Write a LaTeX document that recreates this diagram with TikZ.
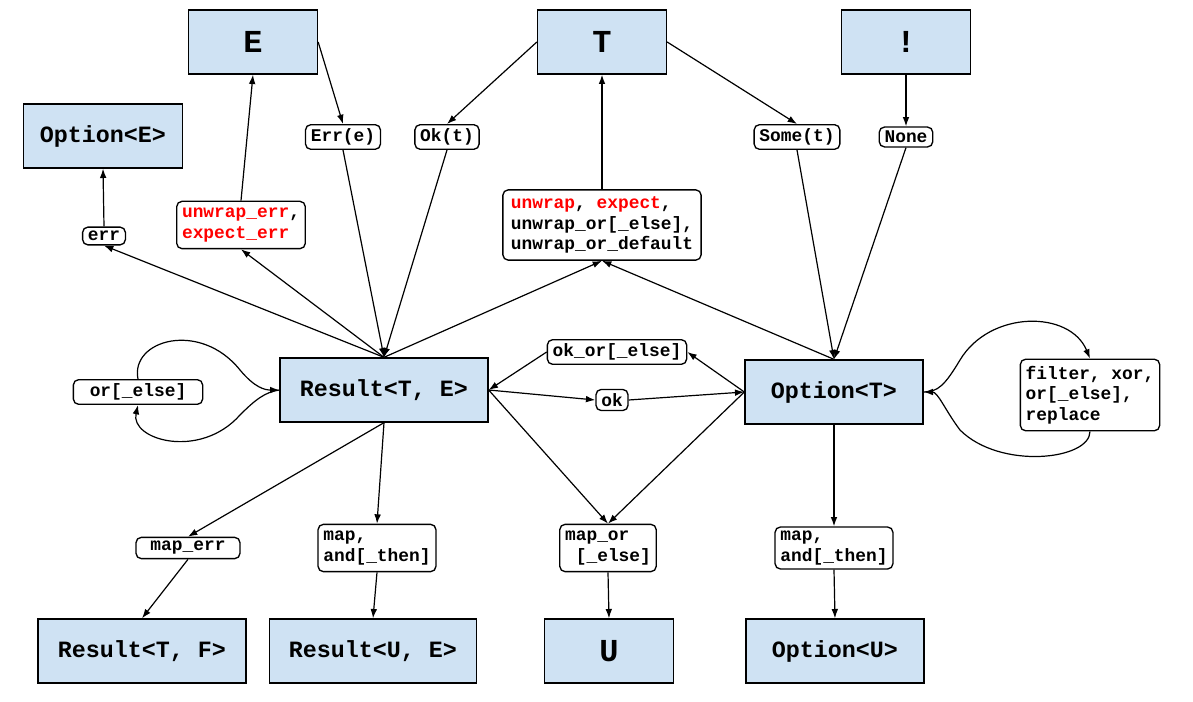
\documentclass[tikz,border=0pt]{standalone}
\usepackage{fontspec}
\setmonofont{Liberation Mono}
\usetikzlibrary{arrows.meta}
\definecolor{bx}{HTML}{CFE2F3}
\begin{document}
\begin{tikzpicture}[x=0.75pt,y=-0.75pt,
 big/.style={draw,line width=1pt,fill=bx,minimum width=#1*0.75pt,minimum height=48pt,font=\ttfamily\bfseries\fontsize{17.5}{20}\selectfont,inner sep=0pt},
 huge/.style={big=129,font=\ttfamily\bfseries\fontsize{24}{26}\selectfont},
 lab/.style={draw,line width=1pt,fill=white,rounded corners=4pt,font=\ttfamily\bfseries\fontsize{13.4}{15.5}\selectfont,inner xsep=4pt,inner ysep=3pt,align=left},
 ar/.style={-{Latex[length=7pt,width=5pt]},line width=0.9pt}]
\useasboundingbox (0,0) rectangle (1193,702);
\node[huge] (E) at (253,42) {E};
\node[huge] (T) at (602,42) {T};
\node[huge] (X) at (906,42) {!};
\node[big=159] (OE) at (103,136) {Option<E>};
\node[big=208] (R) at (384,390) {Result<T, E>};
\node[big=178] (OT) at (834,392) {Option<T>};
\node[big=208] (RF) at (142,651) {Result<T, F>};
\node[big=207] (RU) at (373,651) {Result<U, E>};
\node[huge] (U) at (609,651) {U};
\node[big=178] (OU) at (835,651) {Option<U>};

\node[lab] (erre) at (343,137) {Err(e)};
\node[lab] (okt) at (447,137) {Ok(t)};
\node[lab] (somet) at (797,137) {Some(t)};
\node[lab] (none) at (906,137) {None};
\node[lab] (err) at (104,236) {err};
\node[lab,inner ysep=5pt] (uerr) at (241,225) {\color{red}unwrap\_err\color{black},\\\color{red}expect\_err};
\node[lab,inner ysep=5pt,inner xsep=6pt] (unw) at (602,225) {\color{red}unwrap\color{black}, \color{red}expect\color{black},\\unwrap\_or[\_else],\\unwrap\_or\_default};
\node[lab] (okor) at (617,352) {ok\_or[\_else]};
\node[lab,minimum width=97pt] (orl) at (138,392) {or[\_else]};
\node[lab] (ok) at (612,400) {ok};
\node[lab,inner ysep=5pt] (filt) at (1090,395) {filter, xor,\\or[\_else],\\replace};
\node[lab,minimum width=78pt] (maperr) at (188,548) {map\_err};
\node[lab,inner ysep=5pt] (mapl) at (377,548) {map,\\and[\_then]};
\node[lab,inner ysep=5pt] (mapor) at (608,548) {map\_or\\\relax\ [\_else]};
\node[lab,inner ysep=3pt] (mapr) at (834,548) {map,\\and[\_then]};

\draw[ar] (E.east) -- (erre.north);
\draw[ar] (uerr.north) -- (E.south);
\draw[ar] (R.north) -- (uerr.south);
\draw[ar] (R.north) -- (err.south);
\draw[ar] (err.north) -- (OE.south);
\draw[ar] (erre.south) -- (R.north);
\draw[ar] (okt.south) -- (R.north);
\draw[ar] (R.north) -- (unw.south);
\draw[ar] (OT.north) -- (unw.south);
\draw[ar] (unw.north) -- (T.south);
\draw[ar] (T.west) -- (okt.north);
\draw[ar] (T.east) -- (somet.north);
\draw[ar] (X.south) -- (none.north);
\draw[ar] (somet.south) -- (OT.north);
\draw[ar] (none.south) -- (OT.north);
\draw[ar] (OT.west) -- (okor.east);
\draw[ar] (okor.west) -- (R.east);
\draw[ar] (R.east) -- (ok.west);
\draw[ar] (ok.east) -- (OT.west);
\draw[ar] (R.east) -- (mapor.north);
\draw[ar] (OT.west) -- (mapor.north);
\draw[ar] (orl.north) .. controls (130,340) and (200,320) .. (240,370) .. controls (255,388) and (265,390) .. (R.west);
\draw[ar] (R.west) .. controls (265,392) and (255,400) .. (240,415) .. controls (200,460) and (130,440) .. (orl.south);
\draw[ar] (OT.east) .. controls (938,392) and (945,385) .. (960,360) .. controls (990,310) and (1070,310) .. (filt.north);
\draw[ar] (filt.south) .. controls (1090,460) and (1000,470) .. (960,430) .. controls (945,410) and (938,392) .. (OT.east);
\draw[ar] (R.south) -- (maperr.north);
\draw[ar] (R.south) -- (mapl.north);
\draw[ar] (maperr.south) -- (RF.north);
\draw[ar] (mapl.south) -- (RU.north);
\draw[ar] (mapor.south) -- (U.north);
\draw[ar] (OT.south) -- (mapr.north);
\draw[ar] (mapr.south) -- (OU.north);
\end{tikzpicture}
\end{document}
